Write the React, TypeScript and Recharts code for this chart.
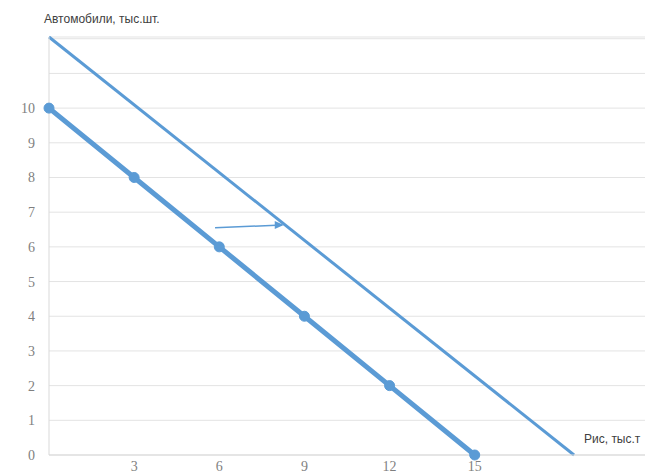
import { LineChart, Line, XAxis, YAxis, CartesianGrid } from 'recharts'

// Production possibilities: rice (x) vs cars (y), thousand units
const riceBase = [0, 3, 6, 9, 12, 15]
const carsBase = [10, 8, 6, 4, 2, 0]

const riceShifted = [0, 18.5]
const carsShifted = [12.05, 0]

const arrowX = [5.85, 8.2]
const arrowY = [6.55, 6.63]

const xTicks = [3, 6, 9, 12, 15]
const yTicks = [0, 1, 2, 3, 4, 5, 6, 7, 8, 9, 10, 11, 12]

const BLUE = '#5b9bd5'

const toPoints = (xs: number[], ys: number[]) => xs.map((x, i) => ({ x, y: ys[i] }))

const baseData = toPoints(riceBase, carsBase)
const shiftedData = toPoints(riceShifted, carsShifted)
const arrowData = toPoints(arrowX, arrowY)

// arrow head drawn at the last point of the arrow series
function ArrowHead(props: any) {
  const { cx, cy, index } = props
  if (index !== arrowData.length - 1 || cx == null) return <g key={`a${index}`} />
  return (
    <path
      key={`a${index}`}
      d={`M${cx + 2},${cy} L${cx - 7},${cy - 4} L${cx - 7},${cy + 4} Z`}
      fill={BLUE}
    />
  )
}

export default function App() {
  return (
    <div style={{ position: 'absolute', left: 0, top: 0, width: 648, height: 475, background: '#fff', fontFamily: '"Liberation Sans", Arial, sans-serif' }}>
      <LineChart width={648} height={475} margin={{ top: 37, right: 3, left: 0, bottom: 0 }}>
        <CartesianGrid vertical={false} stroke="#e3e3e3" />
        <XAxis
          type="number"
          dataKey="x"
          domain={[0, 21]}
          ticks={xTicks}
          height={20}
          tickLine={false}
          tickSize={0}
          tickMargin={6}
          axisLine={{ stroke: '#d9d9d9' }}
          tick={{ fontSize: 14, fill: '#7f7f7f', fontFamily: '"Liberation Serif", serif' }}
          allowDuplicatedCategory={false}
        />
        <YAxis
          type="number"
          dataKey="y"
          domain={[0, 12]}
          ticks={yTicks}
          width={49}
          tickLine={false}
          tickSize={0}
          tickMargin={14}
          axisLine={{ stroke: '#d9d9d9' }}
          tickFormatter={(v: number) => (v <= 10 ? String(v) : '')}
          tick={{ fontSize: 14, fill: '#7f7f7f', fontFamily: '"Liberation Serif", serif' }}
        />
        <Line
          data={shiftedData}
          dataKey="y"
          stroke={BLUE}
          strokeWidth={3}
          dot={false}
          isAnimationActive={false}
        />
        <Line
          data={baseData}
          dataKey="y"
          stroke={BLUE}
          strokeWidth={5}
          dot={{ r: 5, fill: BLUE, stroke: BLUE, strokeWidth: 1 }}
          isAnimationActive={false}
        />
        <Line
          data={arrowData}
          dataKey="y"
          stroke={BLUE}
          strokeWidth={1.5}
          dot={ArrowHead}
          isAnimationActive={false}
        />
      </LineChart>
      <div style={{ position: 'absolute', left: 44, top: 12, fontSize: 12, color: '#404040', whiteSpace: 'nowrap' }}>
        Автомобили, тыс.шт.
      </div>
      <div style={{ position: 'absolute', left: 584, top: 432, fontSize: 12, color: '#404040', whiteSpace: 'nowrap' }}>
        Рис, тыс.т
      </div>
    </div>
  )
}
